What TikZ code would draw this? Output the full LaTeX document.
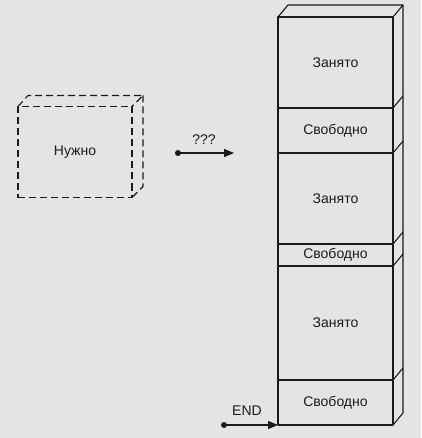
\documentclass[tikz,border=0pt]{standalone}
\usepackage{fontspec}
\setmainfont{Liberation Sans}
\usetikzlibrary{arrows.meta}
\definecolor{bg}{HTML}{E4E4E4}
\definecolor{ink}{HTML}{1A1A1A}
\begin{document}
\begin{tikzpicture}[x=1pt,y=-1pt,
  edge/.style={draw=ink,line width=1.1pt,line join=round},
  cell/.style={edge,rectangle,inner sep=0pt,outer sep=0pt,minimum width=115pt,
    font=\fontsize{14}{16}\selectfont,text=ink},
  dbox/.style={edge,dash pattern=on 7pt off 4pt},
  dot/.style={circle,fill=ink,inner sep=0pt,minimum size=6pt},
  lbl/.style={font=\fontsize{14}{16}\selectfont,text=ink,inner sep=0pt},
  arr/.style={edge,-{Triangle[length=10pt,width=8pt]}}]
\fill[bg] (0,0) rectangle (421,438);
\useasboundingbox (0,0) rectangle (421,438);
% stack
\node[cell,minimum height=91pt] (c1) at (335.5,62.5) {Занято};
\node[cell,minimum height=45pt] (c2) at (335.5,130.5) {Свободно};
\node[cell,minimum height=91pt] (c3) at (335.5,198.5) {Занято};
\node[cell,minimum height=22pt] (c4) at (335.5,255) {Свободно};
\node[cell,minimum height=114pt] (c5) at (335.5,323) {Занято};
\node[cell,minimum height=45pt] (c6) at (335.5,402.5) {Свободно};
\draw[edge] (c1.north west) -- ++(10,-12) -- ++(115,0) -- (c1.north east);
\draw[edge] ([shift={(10,-12)}]c1.north east) -- ([shift={(10,-12)}]c6.south east) -- (c6.south east);
\foreach \c in {c1,c2,c3,c4,c5}{
  \draw[edge] (\c.south east) -- ++(10,-12);
}
% needed box
\node[cell,dbox,minimum width=114pt,minimum height=91pt] (need) at (75,152) {Нужно};
\draw[dbox] (need.north west) -- ++(10,-11) -- ++(115,0) -- (need.north east);
\draw[dbox] ([shift={(11,-11)}]need.north east) -- ([shift={(11,-11)}]need.south east) -- (need.south east);
% arrow ???
\node[dot] (d1) at (178,153) {};
\coordinate (t1) at (234,153);
\draw[arr] (d1.center) -- (t1);
\node[lbl] (q) at (204,140) {???};
% END
\node[dot] (d2) at (224,425) {};
\draw[arr] (d2.center) -- (c6.south west);
\node[lbl] (e) at (247,411) {END};
\end{tikzpicture}
\end{document}
